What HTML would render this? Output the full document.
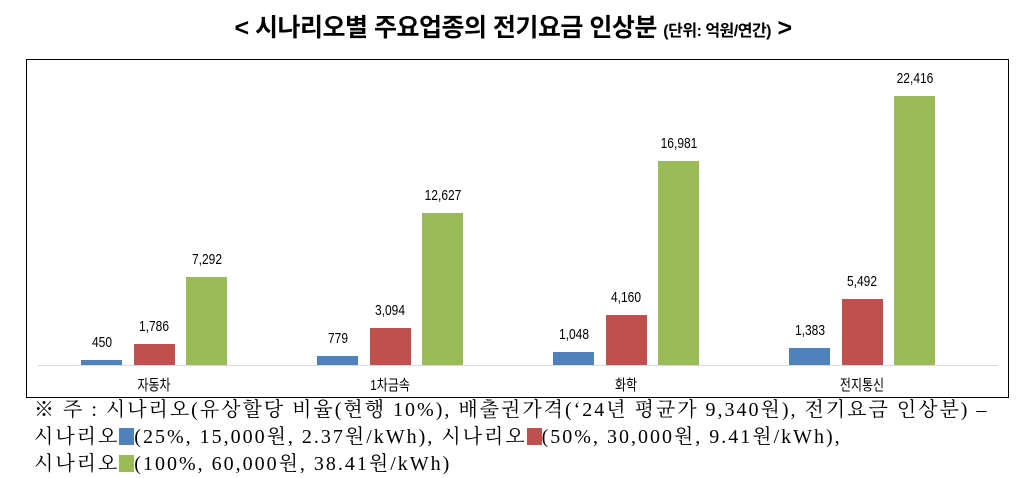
<!DOCTYPE html><html><head><meta charset="utf-8"><style>
body{margin:0;width:1026px;height:466px;background:#fff;overflow:hidden;position:relative;font-family:"Liberation Sans","Noto Sans CJK KR",sans-serif}
.t{position:absolute;top:8px;left:0;width:1026px;text-align:center;font-size:25px;font-weight:bold;letter-spacing:-0.5px}
.t small{font-size:16px}
.box{position:absolute;left:26px;top:59px;width:983px;height:339px;border:1.5px solid #000;box-sizing:border-box}
.b{position:absolute;width:41px}
.l{position:absolute;width:80px;text-align:center;font-size:15px;font-family:"Liberation Sans Narrow","Liberation Sans",sans-serif;transform:scaleX(0.8)}
.c{position:absolute;width:100px;text-align:center;font-size:15px;top:374px;transform:scaleX(0.8)}
.n{position:absolute;left:34px;font-size:20px;letter-spacing:2px;font-family:"Liberation Serif","Noto Serif CJK KR","Noto Serif CJK SC",serif;white-space:nowrap;line-height:27px;top:397px}
.sq{display:inline-block;width:15px;height:17px;vertical-align:-2px}
</style></head><body>
<div class="t">&lt; 시나리오별 주요업종의 전기요금 인상분 <small>(단위: 억원/연간)</small> &gt;</div>
<div class="box"></div>
<div style="position:absolute;left:38px;top:365px;width:960px;height:1px;background:#d9d9d9"></div>
<div id="g"></div>
<div class="n">※ 주 : 시나리오(유상할당 비율(현행 10%), 배출권가격(‘24년 평균가 9,340원), 전기요금 인상분) –<br>시나리오<span class="sq" style="background:#4f81bd"></span>(25%, 15,000원, 2.37원/kWh), 시나리오<span class="sq" style="background:#c0504d"></span>(50%, 30,000원, 9.41원/kWh),<br>시나리오<span class="sq" style="background:#9bbb59"></span>(100%, 60,000원, 38.41원/kWh)</div>
<script>
var d=[["자동차",450,1786,7292],["1차금속",779,3094,12627],["화학",1048,4160,16981],["전지통신",1383,5492,22416]];
var col=["#4f81bd","#c0504d","#9bbb59"],h="";
d.forEach(function(g,i){var x0=81+i*236;
for(var k=0;k<3;k++){var v=g[k+1],hh=v*0.012,x=x0+k*52.5;
h+='<div class="b" style="left:'+x+'px;top:'+(365-hh)+'px;height:'+hh+'px;background:'+col[k]+'"></div>';
h+='<div class="l" style="left:'+(x-19.5)+'px;top:'+(365-hh-26)+'px">'+v.toLocaleString("en-US")+'</div>';}
h+='<div class="c" style="left:'+(x0+73-50)+'px">'+g[0]+'</div>';});
document.getElementById("g").innerHTML=h;
</script>
</body></html>
